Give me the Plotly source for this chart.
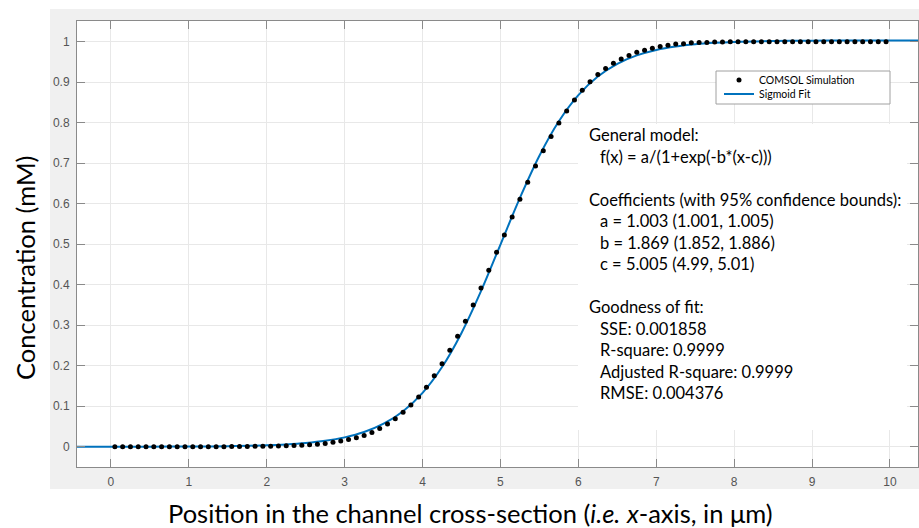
import plotly.graph_objects as go

# ---------------- data ----------------
sim_x = [0.05, 0.15, 0.25, 0.35, 0.45, 0.55, 0.65, 0.75, 0.85, 0.95,
         1.05, 1.15, 1.25, 1.35, 1.45, 1.55, 1.65, 1.75, 1.85, 1.95,
         2.05, 2.15, 2.25, 2.35, 2.45, 2.55, 2.65, 2.75, 2.85, 2.95,
         3.05, 3.15, 3.25, 3.35, 3.45, 3.55, 3.65, 3.75, 3.85, 3.95,
         4.05, 4.15, 4.25, 4.35, 4.45, 4.55, 4.65, 4.75, 4.85, 4.95,
         5.05, 5.15, 5.25, 5.35, 5.45, 5.55, 5.65, 5.75, 5.85, 5.95,
         6.05, 6.15, 6.25, 6.35, 6.45, 6.55, 6.65, 6.75, 6.85, 6.95,
         7.05, 7.15, 7.25, 7.35, 7.45, 7.55, 7.65, 7.75, 7.85, 7.95,
         8.05, 8.15, 8.25, 8.35, 8.45, 8.55, 8.65, 8.75, 8.85, 8.95,
         9.05, 9.15, 9.25, 9.35, 9.45, 9.55, 9.65, 9.75, 9.85, 9.95]
sim_y = [0.0, 0.0, 0.0, 0.0, 0.0, 0.0, 0.0, 0.0, 0.0, 0.0,
         0.0, 0.0, 0.0, 0.0, 0.0, 0.0005, 0.0005, 0.0005, 0.001, 0.001,
         0.0015, 0.002, 0.0025, 0.003, 0.004, 0.005, 0.006, 0.008, 0.011, 0.014,
         0.018, 0.022, 0.028, 0.035, 0.045, 0.056, 0.069, 0.085, 0.103, 0.123,
         0.147, 0.175, 0.205, 0.238, 0.273, 0.310, 0.350, 0.392, 0.436, 0.480,
         0.523, 0.567, 0.611, 0.653, 0.693, 0.731, 0.766, 0.799, 0.829, 0.856,
         0.880, 0.901, 0.919, 0.934, 0.947, 0.957, 0.966, 0.974, 0.979, 0.984,
         0.988, 0.991, 0.994, 0.995, 0.997, 0.998, 0.998, 0.999, 0.999, 1.000,
         1.000, 1.000, 1.000, 1.000, 1.000, 1.000, 1.000, 1.000, 1.000, 1.000,
         1.000, 1.000, 1.000, 1.000, 1.000, 1.000, 1.000, 1.000, 1.000, 1.000]

fit_x = [-0.5, 0.0, 0.5, 1.0, 1.5, 2.0, 2.25, 2.5, 2.75, 3.0, 3.25, 3.5, 3.75,
         4.0, 4.25, 4.5, 4.75, 5.0, 5.25, 5.5, 5.75, 6.0, 6.25, 6.5, 6.75,
         7.0, 7.25, 7.5, 7.75, 8.0, 8.5, 9.0, 9.5, 10.0, 10.5]
fit_y = [0.0000, 0.0001, 0.0002, 0.0006, 0.0014, 0.0036, 0.0058, 0.0092, 0.0146,
         0.0231, 0.0363, 0.0568, 0.0877, 0.1330, 0.1967, 0.2810, 0.3841, 0.4992,
         0.6143, 0.7183, 0.8034, 0.8679, 0.9138, 0.9452, 0.9660, 0.9795, 0.9881,
         0.9936, 0.9971, 0.9993, 1.0015, 1.0024, 1.0028, 1.0029, 1.0030]

x_ticks = [0, 1, 2, 3, 4, 5, 6, 7, 8, 9, 10]
x_tick_labels = ["0", "1", "2", "3", "4", "5", "6", "7", "8", "9", "10"]
y_ticks = [0, 0.1, 0.2, 0.3, 0.4, 0.5, 0.6, 0.7, 0.8, 0.9, 1.0]
y_tick_labels = ["0", "0.1", "0.2", "0.3", "0.4", "0.5", "0.6", "0.7", "0.8", "0.9", "1"]

fit_text = [
    ("General model:", 0),
    ("f(x) = a/(1+exp(-b*(x-c)))", 1),
    ("Coefficients (with 95% confidence bounds):", 0),
    ("a = 1.003 (1.001, 1.005)", 1),
    ("b = 1.869 (1.852, 1.886)", 1),
    ("c = 5.005 (4.99, 5.01)", 1),
    ("Goodness of fit:", 0),
    ("SSE: 0.001858", 1),
    ("R-square: 0.9999", 1),
    ("Adjusted R-square: 0.9999", 1),
    ("RMSE: 0.004376", 1),
]
fit_text_rows = [0, 1, 3, 4, 5, 6, 8, 9, 10, 11, 12]

# ---------------- layout geometry ----------------
W, H = 919, 528
L, R, T, B = 77, 918, 21, 467  # plot area in px


def px(xp):
    return (xp - L) / (R - L)


def py(yp):
    return (B - yp) / (B - T)


TEXT_FONT = "Lato"
blue = "#0072BD"
axis_gray = "#8a8a8a"

fig = go.Figure()
fig.add_trace(go.Scatter(
    x=fit_x, y=fit_y, mode="lines", name="Sigmoid Fit",
    line=dict(color=blue, width=2, shape="spline"),
    legend="legend2",
))
fig.add_trace(go.Scatter(
    x=sim_x, y=sim_y, mode="markers", name="COMSOL Simulation",
    marker=dict(color="black", size=5),
    legend="legend",
))

shapes = [
    dict(type="rect", xref="paper", yref="paper", x0=px(50), x1=px(925), y0=py(489), y1=py(9),
         fillcolor="#f0f0f0", line=dict(width=0), layer="below"),
    dict(type="rect", xref="paper", yref="paper", x0=0, x1=1, y0=0, y1=1,
         fillcolor="white", line=dict(width=0), layer="below"),
    dict(type="rect", xref="paper", yref="paper", x0=px(578), x1=px(907), y0=py(430), y1=py(124),
         fillcolor="white", line=dict(width=0), layer="above"),
    dict(type="rect", xref="paper", yref="paper", x0=px(716), x1=px(890), y0=py(104), y1=py(71),
         fillcolor="white", line=dict(color="#a0a0a0", width=1), layer="above"),
]

annotations = [
    dict(text="Position in the channel cross-section (<i>i.e.</i> <i>x</i>-axis, in μm)",
         xref="paper", yref="paper", x=px(470), y=py(513), showarrow=False,
         xanchor="center", yanchor="middle", font=dict(family=TEXT_FONT, size=25.5, color="black")),
    dict(text="Concentration (mM)", xref="paper", yref="paper", x=px(25), y=py(268),
         showarrow=False, textangle=-90, xanchor="center", yanchor="middle",
         font=dict(family=TEXT_FONT, size=25.5, color="black")),
]
for (txt, indent), row in zip(fit_text, fit_text_rows):
    annotations.append(dict(
        text=txt, xref="paper", yref="paper", x=px(587 + 11 * indent), y=py(135 + 21.5 * row),
        showarrow=False, xanchor="left", yanchor="middle",
        font=dict(family=TEXT_FONT, size=16.5, color="black")))

axis_common = dict(
    showline=True, linecolor=axis_gray, linewidth=1, mirror="ticks",
    ticks="inside", ticklen=8, tickcolor=axis_gray, tickwidth=1,
    showgrid=True, gridcolor="#e8e8e8", gridwidth=1, zeroline=False,
    tickfont=dict(family="Liberation Sans", size=12, color="#555555"),
)

fig.update_layout(
    width=W, height=H,
    margin=dict(l=L, r=W - R, t=T, b=H - B, pad=0),
    paper_bgcolor="white", plot_bgcolor="rgba(0,0,0,0)",
    xaxis=dict(range=[-0.436, 10.36], tickvals=x_ticks, ticktext=x_tick_labels,
               ticklabelstandoff=4, **axis_common),
    yaxis=dict(range=[-0.05, 1.051], tickvals=y_ticks, ticktext=y_tick_labels,
               ticklabelstandoff=4, **axis_common),
    shapes=shapes, annotations=annotations,
    showlegend=True,
    legend=dict(x=px(719), y=py(80), xanchor="left", yanchor="middle",
                bgcolor="rgba(0,0,0,0)", borderwidth=0,
                font=dict(family=TEXT_FONT, size=10.5, color="black")),
    legend2=dict(x=px(719), y=py(94), xanchor="left", yanchor="middle",
                 bgcolor="rgba(0,0,0,0)", borderwidth=0,
                 font=dict(family=TEXT_FONT, size=10.5, color="black")),
)

fig.write_html("out.html")
